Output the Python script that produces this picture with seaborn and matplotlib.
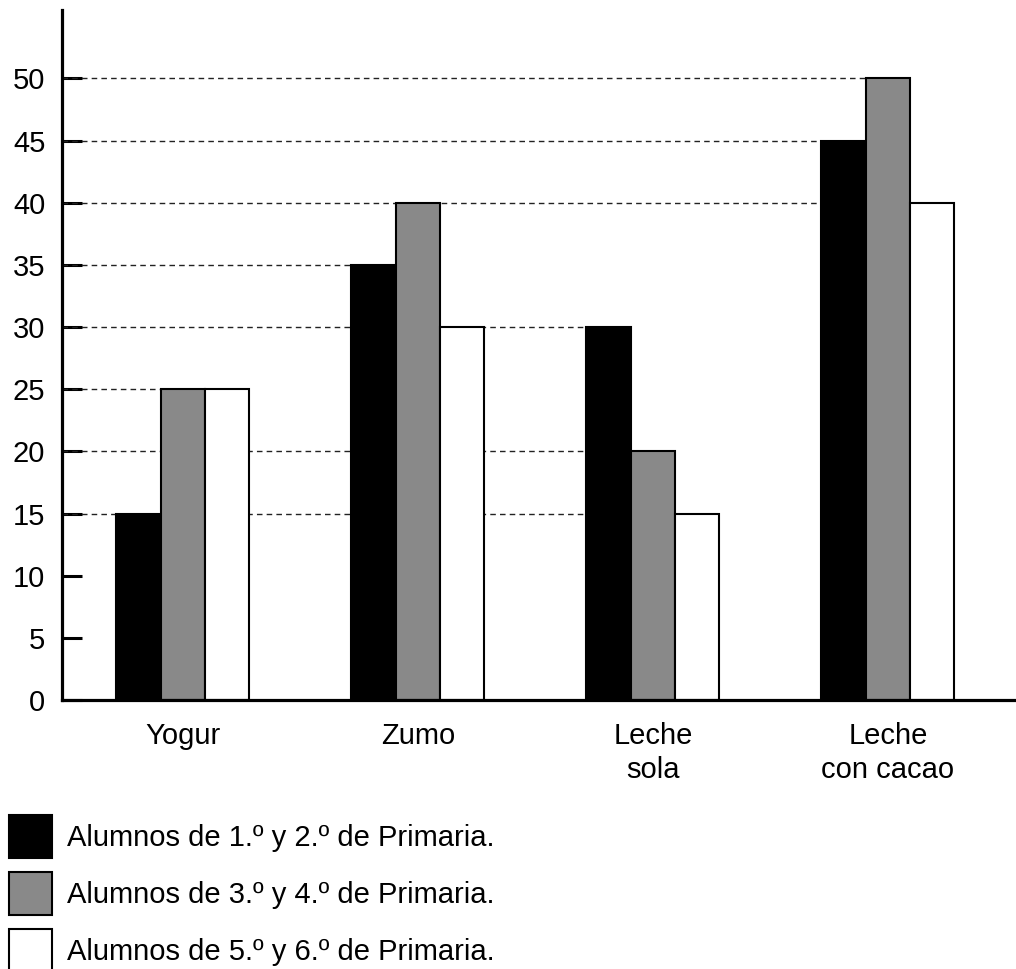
import matplotlib
matplotlib.use('Agg')
import matplotlib.pyplot as plt
import pandas as pd
import seaborn as sns

# Bebidas preferidas en el desayuno, por ciclo de Primaria.
bebidas = ['Yogur', 'Zumo', 'Leche\nsola', 'Leche\ncon cacao']
grupos = ['Alumnos de 1.º y 2.º de Primaria.',
          'Alumnos de 3.º y 4.º de Primaria.',
          'Alumnos de 5.º y 6.º de Primaria.']
valores_1_2 = [15, 35, 30, 45]
valores_3_4 = [25, 40, 20, 50]
valores_5_6 = [25, 30, 15, 40]
colores = ['#000000', '#898989', '#ffffff']
y_ticks = list(range(0, 55, 5))
niveles_guia = list(range(15, 55, 5))

df = pd.DataFrame({
    'bebida': bebidas * 3,
    'grupo': [g for g in grupos for _ in bebidas],
    'valor': valores_1_2 + valores_3_4 + valores_5_6,
})

sns.set_style('ticks')
plt.rcParams['font.family'] = ['Liberation Sans', 'DejaVu Sans']
plt.rcParams['text.color'] = 'black'
plt.rcParams['xtick.color'] = 'black'
plt.rcParams['ytick.color'] = 'black'
plt.rcParams['axes.edgecolor'] = 'black'
FS = 21

fig = plt.figure(figsize=(10.16, 9.69), dpi=100)
ax = fig.add_axes([0.061, 0.2776, 0.939, 0.712])

sns.barplot(data=df, x='bebida', y='valor', hue='grupo',
            palette=dict(zip(grupos, colores)), saturation=1,
            width=0.566, edgecolor='black', linewidth=1.5,
            errorbar=None, ax=ax, zorder=2)

ax.set_xlim(-0.515, 3.545)
ax.set_ylim(0, 55.5)
ax.set_yticks(y_ticks)
ax.set_xlabel('')
ax.set_ylabel('')

# dashed guide lines: from the axis to the last bar that reaches each level
bars = [b for c in ax.containers for b in c]
x0 = ax.get_xlim()[0]
for nivel in niveles_guia:
    xs = [b.get_x() for b in bars if abs(b.get_height() - nivel) < 1e-9]
    if xs:
        ax.hlines(nivel, x0, max(xs), colors='#222222', linewidth=1.0,
                  linestyles=(0, (4, 3)), zorder=1)

for side in ['top', 'right']:
    ax.spines[side].set_visible(False)
ax.spines['left'].set_linewidth(2.3)
ax.spines['bottom'].set_linewidth(2.3)
ax.tick_params(axis='y', direction='in', length=14.5, width=2.2,
               labelsize=FS, pad=12, labelcolor='black')
ax.tick_params(axis='x', length=0, labelsize=FS, pad=16, labelcolor='black')
for lab in ax.get_xticklabels():
    lab.set_linespacing(1.25)

handles, labels = ax.get_legend_handles_labels()
ax.get_legend().remove()
fig.legend(handles, labels, loc='upper left',
           bbox_to_anchor=(0.009, 1 - 815 / 969), frameon=False,
           fontsize=FS, handlelength=1.476, handleheight=1.91,
           labelspacing=0.46, handletextpad=0.5, borderaxespad=0,
           borderpad=0)

plt.savefig('out.png', dpi=100)
